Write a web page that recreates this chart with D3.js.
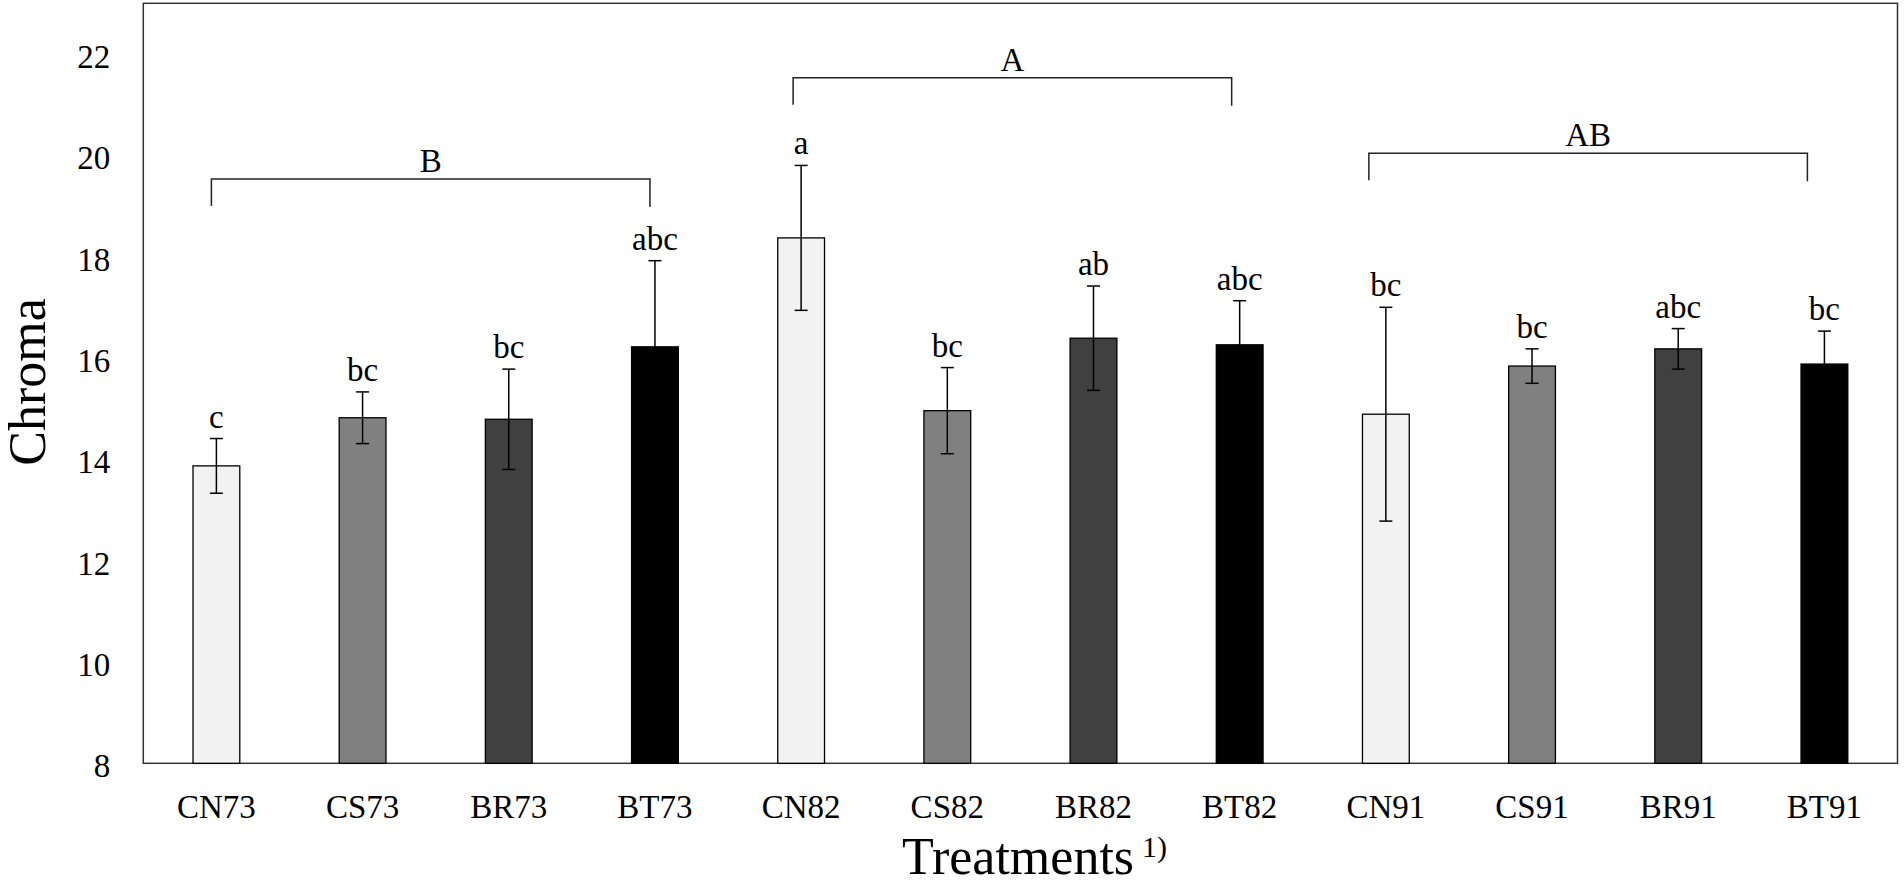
<!DOCTYPE html>
<html>
<head>
<meta charset="utf-8">
<script src="https://cdn.jsdelivr.net/npm/d3@7"></script>
<style>
  html, body { margin: 0; padding: 0; background: #fff; }
  svg { display: block; }
  text { font-family: "Liberation Serif", "Times New Roman", serif; fill: #000; }
</style>
</head>
<body>
<svg id="chart" width="1904" height="885"></svg>
<script>
// ---- data ----
const categories = ["CN73","CS73","BR73","BT73","CN82","CS82","BR82","BT82","CN91","CS91","BR91","BT91"];
const means      = [13.87, 14.82, 14.79, 16.22, 18.37, 14.96, 16.39, 16.26, 14.89, 15.84, 16.18, 15.88];
const errors     = [0.54, 0.51, 0.99, 1.70, 1.43, 0.85, 1.03, 0.87, 2.11, 0.34, 0.40, 0.65];
const letters    = ["c","bc","bc","abc","a","bc","ab","abc","bc","bc","abc","bc"];
const treatmentType = ["CN","CS","BR","BT","CN","CS","BR","BT","CN","CS","BR","BT"];
const yTicks     = [8, 10, 12, 14, 16, 18, 20, 22];
const groupLabels = ["B", "A", "AB"];
const groupFrom   = ["CN73", "CN82", "CN91"];
const groupTo     = ["BT73", "BT82", "BT91"];
const groupLevel  = [19.53, 21.53, 20.04];

// ---- style ----
const fillByType = { CN: "#f2f2f2", CS: "#808080", BR: "#404040", BT: "#000000" };
const groupShift = [-5, -8, -17];

const svg = d3.select("#chart");
const pLeft = 143.3, pRight = 1897.5, pTop = 3.3, pBottom = 763.3;

const x = d3.scaleBand().domain(categories).range([pLeft, pRight]).padding(0);
const y = d3.scaleLinear().domain([8, 23]).range([pBottom, pTop]);
const barW = x.step() * 0.32;
const cx = c => x(c) + x.bandwidth() / 2;

// frame
svg.append("rect")
  .attr("x", pLeft).attr("y", pTop)
  .attr("width", pRight - pLeft).attr("height", pBottom - pTop)
  .attr("fill", "none").attr("stroke", "#333").attr("stroke-width", 1.5);

// bars
const data = categories.map((c, i) => ({ c, m: means[i], e: errors[i], l: letters[i], t: treatmentType[i] }));
svg.append("g").selectAll("rect").data(data).join("rect")
  .attr("x", d => cx(d.c) - barW / 2)
  .attr("y", d => y(d.m))
  .attr("width", barW)
  .attr("height", d => y(8) - y(d.m))
  .attr("fill", d => fillByType[d.t])
  .attr("stroke", "#000").attr("stroke-width", 1.3);

// error bars
const eg = svg.append("g").attr("stroke", "#000").attr("stroke-width", 1.5);
data.forEach(d => {
  const xc = cx(d.c);
  eg.append("line").attr("x1", xc).attr("x2", xc).attr("y1", y(d.m + d.e)).attr("y2", y(d.m - d.e));
  eg.append("line").attr("x1", xc - 6.5).attr("x2", xc + 6.5).attr("y1", y(d.m + d.e)).attr("y2", y(d.m + d.e));
  eg.append("line").attr("x1", xc - 6.5).attr("x2", xc + 6.5).attr("y1", y(d.m - d.e)).attr("y2", y(d.m - d.e));
});

// significance letters
svg.append("g").selectAll("text").data(data).join("text")
  .attr("x", d => cx(d.c))
  .attr("y", d => y(d.m + d.e) - 11)
  .attr("text-anchor", "middle")
  .attr("font-size", 33)
  .text(d => d.l);

// group brackets
const bg = svg.append("g");
groupLabels.forEach((lab, i) => {
  const x1 = cx(groupFrom[i]) + groupShift[i];
  const x2 = cx(groupTo[i]) + groupShift[i];
  const yl = y(groupLevel[i]);
  bg.append("path")
    .attr("d", `M${x1},${yl + 27}V${yl}H${x2}V${yl + 28}`)
    .attr("fill", "none").attr("stroke", "#222").attr("stroke-width", 1.5);
  bg.append("text")
    .attr("x", (x1 + x2) / 2).attr("y", yl - 7)
    .attr("text-anchor", "middle").attr("font-size", 33)
    .text(lab);
});

// y axis labels
const yAxis = d3.axisLeft(y).tickValues(yTicks).tickSize(0).tickPadding(33);
const ya = svg.append("g").attr("transform", `translate(${pLeft},0)`).call(yAxis);
ya.select(".domain").remove();
ya.selectAll("text")
  .attr("font-family", "Liberation Serif, serif")
  .attr("font-size", 33).attr("fill", "#000")
  .attr("dy", null)
  .attr("y", 13.5);

// x axis labels
const xAxis = d3.axisBottom(x).tickSize(0).tickPadding(0);
const xa = svg.append("g").attr("transform", `translate(0,${pBottom})`).call(xAxis);
xa.select(".domain").remove();
xa.selectAll("text")
  .attr("font-family", "Liberation Serif, serif")
  .attr("font-size", 33).attr("fill", "#000")
  .attr("dy", null).attr("y", 55);

// axis titles
svg.append("text")
  .attr("transform", "translate(45,382) rotate(-90)")
  .attr("text-anchor", "middle")
  .attr("font-size", 52)
  .text("Chroma");

const xt = svg.append("text")
  .attr("x", 902).attr("y", 874)
  .attr("font-size", 52);
xt.append("tspan").text("Treatments");
xt.append("tspan").attr("font-size", 30).attr("dx", 8).attr("dy", -17).text("1)");
</script>
</body>
</html>
